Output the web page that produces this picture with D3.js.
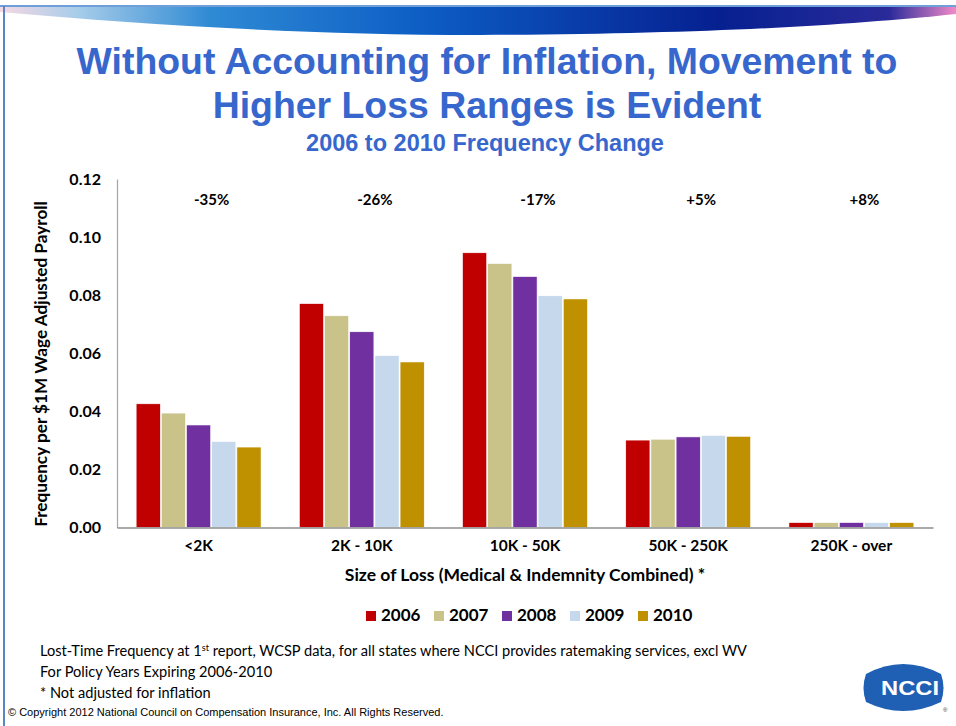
<!DOCTYPE html>
<html><head><meta charset="utf-8">
<script src="https://cdn.jsdelivr.net/npm/d3@7"></script>
<style>body{margin:0;background:#fff}svg{display:block}</style>
</head><body><svg id="c" width="956" height="726"></svg>
<script>
const categories = ["<2K", "2K - 10K", "10K - 50K", "50K - 250K", "250K - over"];
const years = ["2006", "2007", "2008", "2009", "2010"];
const v2006 = [0.0426, 0.0771, 0.0946, 0.0301, 0.0017];
const v2007 = [0.0394, 0.0729, 0.0909, 0.0304, 0.0017];
const v2008 = [0.0353, 0.0674, 0.0864, 0.0312, 0.0017];
const v2009 = [0.0296, 0.0592, 0.0798, 0.0317, 0.0017];
const v2010 = [0.0277, 0.0570, 0.0787, 0.0314, 0.0017];
const changes = ["-35%", "-26%", "-17%", "+5%", "+8%"];
const yTicks = [0, 0.02, 0.04, 0.06, 0.08, 0.10, 0.12];
const colors = ["#C00000", "#C9C389", "#7030A0", "#C6D9EC", "#BF9000"];
const series = [v2006, v2007, v2008, v2009, v2010];

const svg = d3.select("#c");
const cal = "Lato, 'Open Sans', sans-serif";

// header banner
const defs = svg.append("defs");
const g1 = defs.append("linearGradient").attr("id","ban").attr("x1","0").attr("x2","1");
[["0","#f6d8e4"],["0.08","#a8cdea"],["0.22","#2f8ad4"],["0.45","#0c5cc4"],["0.75","#062090"],["0.93","#2a2a9a"],["1","#f08ac8"]]
  .forEach(s=>g1.append("stop").attr("offset",s[0]).attr("stop-color",s[1]));
svg.append("path").attr("d","M0,7 L956,7 L956,14 C840,26 700,34 480,35 C300,35 140,24 0,12 Z").attr("fill","url(#ban)");
svg.append("line").attr("x1",0).attr("x2",956).attr("y1",6).attr("y2",6).attr("stroke","#6f9fd8").attr("stroke-width",2);
svg.append("line").attr("x1",4).attr("x2",4).attr("y1",6).attr("y2",726).attr("stroke","#5a86c8").attr("stroke-width",2);

// titles
const tb = "Liberation Sans, Arial, sans-serif";
svg.append("text").attr("x",487).attr("y",74).attr("text-anchor","middle").attr("font-family",tb).attr("font-weight","bold").attr("font-size",37.4).attr("fill","#3767CD").text("Without Accounting for Inflation, Movement to");
svg.append("text").attr("x",487).attr("y",118).attr("text-anchor","middle").attr("font-family",tb).attr("font-weight","bold").attr("font-size",37.4).attr("fill","#3767CD").text("Higher Loss Ranges is Evident");
svg.append("text").attr("x",485).attr("y",151).attr("text-anchor","middle").attr("font-family",tb).attr("font-weight","bold").attr("font-size",23.5).attr("fill","#3767CD").text("2006 to 2010 Frequency Change");

// scales
const x0 = d3.scaleBand().domain(categories).range([117, 933]).padding(0);
const x1 = d3.scaleBand().domain(years).range([0, x0.bandwidth()]).paddingInner(0.04).paddingOuter(0.76);
const y = d3.scaleLinear().domain([0, 0.12]).range([527.5, 179]);

// y axis
const ya = svg.append("g").attr("transform","translate(117,0)")
  .call(d3.axisLeft(y).tickValues(yTicks).tickFormat(d3.format(".2f")).tickSize(0).tickPadding(16));
ya.select(".domain").attr("stroke","#A6A6A6").attr("stroke-width",1.2);
ya.selectAll("text").attr("font-family",cal).attr("font-weight","bold").attr("font-size",16).attr("fill","#000");

// bars
const gs = svg.append("g").selectAll("g").data(categories).join("g").attr("transform",d=>`translate(${x0(d)},0)`);
gs.selectAll("rect").data((d,i)=>years.map((yr,j)=>({yr, j, v: series[j][i]}))).join("rect")
  .attr("x",d=>x1(d.yr)).attr("width",x1.bandwidth())
  .attr("y",d=>y(d.v)).attr("height",d=>y(0)-y(d.v))
  .attr("fill",d=>colors[d.j]).attr("stroke","#ffffff").attr("stroke-width",0.6);

// x axis
const xa = svg.append("g").attr("transform","translate(0,527.5)")
  .call(d3.axisBottom(x0).tickSize(0).tickPadding(12));
xa.select(".domain").attr("stroke","#8c8c8c").attr("stroke-width",1.4);
xa.selectAll("text").attr("font-family",cal).attr("font-weight","bold").attr("font-size",15.5).attr("fill","#000");

// change labels
svg.append("g").selectAll("text").data(categories).join("text")
  .attr("x",(d,i)=>x0(d)+x0.bandwidth()/2+13).attr("y",205).attr("text-anchor","middle")
  .attr("font-family",cal).attr("font-weight","bold").attr("font-size",15).text((d,i)=>changes[i]);

// axis titles
svg.append("text").attr("x",525).attr("y",581).attr("text-anchor","middle").attr("font-family",cal).attr("font-weight","bold").attr("font-size",17.5).text("Size of Loss (Medical & Indemnity Combined) *");
svg.append("text").attr("transform","translate(47,364) rotate(-90)").attr("text-anchor","middle").attr("font-family",cal).attr("font-weight","bold").attr("font-size",17.2).text("Frequency per $1M Wage Adjusted Payroll");

// legend
const lg = svg.append("g").selectAll("g").data(years).join("g").attr("transform",(d,i)=>`translate(${366+i*68},611)`);
lg.append("rect").attr("width",10).attr("height",10).attr("fill",(d,i)=>colors[i]);
lg.append("text").attr("x",15).attr("y",10).attr("font-family",cal).attr("font-weight","bold").attr("font-size",17).text(d=>d);

// footnotes
const fn = svg.append("g").attr("font-family",cal).attr("font-size",14.6).attr("fill","#000");
const t1 = fn.append("text").attr("x",40).attr("y",656);
t1.append("tspan").text("Lost-Time Frequency at 1");
t1.append("tspan").attr("dy",-5).attr("font-size",9).text("st");
t1.append("tspan").attr("dy",5).text(" report, WCSP data, for all states where NCCI provides ratemaking services, excl WV");
fn.append("text").attr("x",40).attr("y",677).text("For Policy Years Expiring 2006-2010");
fn.append("text").attr("x",40).attr("y",698).text("* Not adjusted for inflation");
svg.append("text").attr("x",8).attr("y",716).attr("font-family",tb).attr("font-size",11).text("© Copyright 2012 National Council on Compensation Insurance, Inc. All Rights Reserved.");

// NCCI logo
svg.append("path").attr("d","M866,674 Q903,654 941,674 Q946,688 941,702 Q903,720 866,702 Q861,688 866,674 Z").attr("fill","#1F5FB4");
svg.append("text").attr("x",910).attr("y",695).attr("text-anchor","middle").attr("font-family",tb).attr("font-weight","bold").attr("font-size",20).attr("fill","#fff").attr("textLength",58).attr("lengthAdjust","spacingAndGlyphs").text("NCCI");
svg.append("text").attr("x",943).attr("y",712).attr("font-family",tb).attr("font-size",6).attr("fill","#333").text("®");
</script></body></html>
